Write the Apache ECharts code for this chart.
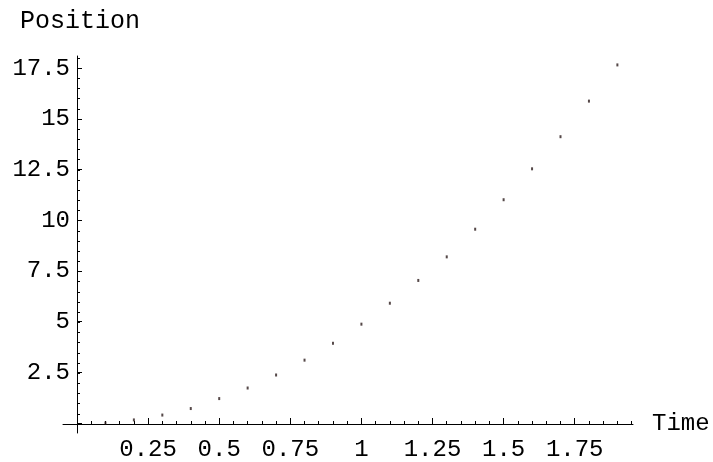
<!DOCTYPE html>
<html>
<head>
<meta charset="utf-8">
<script src="https://cdn.jsdelivr.net/npm/echarts@6/dist/echarts.min.js"></script>
<style>
html,body{margin:0;padding:0;background:#fff;}
#c{width:713px;height:462px;}
</style>
</head>
<body>
<div id="c"></div>
<script>
// Data
var times = [0.1, 0.2, 0.3, 0.4, 0.5, 0.6, 0.7, 0.8, 0.9, 1.0, 1.1, 1.2, 1.3, 1.4, 1.5, 1.6, 1.7, 1.8, 1.9];
var positions = [0.05, 0.2, 0.44, 0.76, 1.25, 1.77, 2.41, 3.14, 3.97, 4.91, 5.94, 7.06, 8.22, 9.58, 11.03, 12.55, 14.13, 15.88, 17.66];
var xTickLabels = [0.25, 0.5, 0.75, 1, 1.25, 1.5, 1.75];
var yTickLabels = [2.5, 5, 7.5, 10, 12.5, 15, 17.5];
var xName = 'Time';
var yName = 'Position';

var FONT = '"Liberation Mono", "DejaVu Sans Mono", monospace';
var FS = 24;

var pts = times.map(function (t, i) { return [t, positions[i]]; });

function fmt(list) {
  return function (v) {
    for (var i = 0; i < list.length; i++) {
      if (Math.abs(list[i] - v) < 1e-6) return String(list[i]);
    }
    return '';
  };
}

var hidden = { show: false };
var black = '#000';

var option = {
  backgroundColor: '#fff',
  animation: false,
  grid: [
    { left: 63, right: 80, top: 56, bottom: 29 },
    { left: 77, right: 81.4, top: 58, bottom: 38 },
    { left: 77, right: 138.3, top: 68.2, bottom: 38 }
  ],
  xAxis: [
    {
      gridIndex: 0, type: 'value', min: -0.049, max: 1.955,
      axisLine: { show: true, onZero: true, lineStyle: { color: black, width: 1 } },
      axisTick: hidden, axisLabel: hidden, splitLine: hidden,
      name: xName, nameLocation: 'end', nameGap: 19,
      nameTextStyle: { fontFamily: FONT, fontSize: FS, color: black, verticalAlign: 'middle' }
    },
    {
      gridIndex: 1, type: 'value', min: 0, max: 1.95, interval: 0.05,
      axisLine: hidden, axisLabel: hidden, splitLine: hidden,
      axisTick: { show: true, inside: true, length: 3, lineStyle: { color: black, width: 1 } }
    },
    {
      gridIndex: 2, type: 'value', min: 0, max: 1.75, interval: 0.25,
      axisLine: hidden, splitLine: hidden,
      axisTick: { show: true, inside: true, length: 5, lineStyle: { color: black, width: 1 } },
      axisLabel: { show: true, margin: 15, fontFamily: FONT, fontSize: FS, color: black, formatter: fmt(xTickLabels) }
    }
  ],
  yAxis: [
    {
      gridIndex: 0, type: 'value', min: -0.44, max: 18.1,
      axisLine: { show: true, onZero: true, lineStyle: { color: black, width: 1 } },
      axisTick: hidden, axisLabel: hidden, splitLine: hidden,
      name: yName, nameLocation: 'end', nameGap: 22,
      nameTextStyle: { fontFamily: FONT, fontSize: 25, color: black, align: 'center', padding: [0, 0, 0, 6] }
    },
    {
      gridIndex: 1, type: 'value', min: 0, max: 18, interval: 0.5,
      axisLine: hidden, axisLabel: hidden, splitLine: hidden,
      axisTick: { show: true, inside: true, length: 3, lineStyle: { color: black, width: 1 } }
    },
    {
      gridIndex: 2, type: 'value', min: 0, max: 17.5, interval: 2.5,
      axisLine: hidden, splitLine: hidden,
      axisTick: { show: true, inside: true, length: 5, lineStyle: { color: black, width: 1 } },
      axisLabel: { show: true, margin: 7, fontFamily: FONT, fontSize: FS, color: black, formatter: fmt(yTickLabels) }
    }
  ],
  series: [
    {
      type: 'scatter',
      xAxisIndex: 1, yAxisIndex: 1,
      data: pts,
      symbol: 'rect',
      symbolSize: [2, 3],
      itemStyle: { color: '#2a1a1a' },
      z: 5
    }
  ]
};

var chart = echarts.init(document.getElementById('c'), null, { renderer: 'canvas' });
chart.setOption(option);
</script>
</body>
</html>
